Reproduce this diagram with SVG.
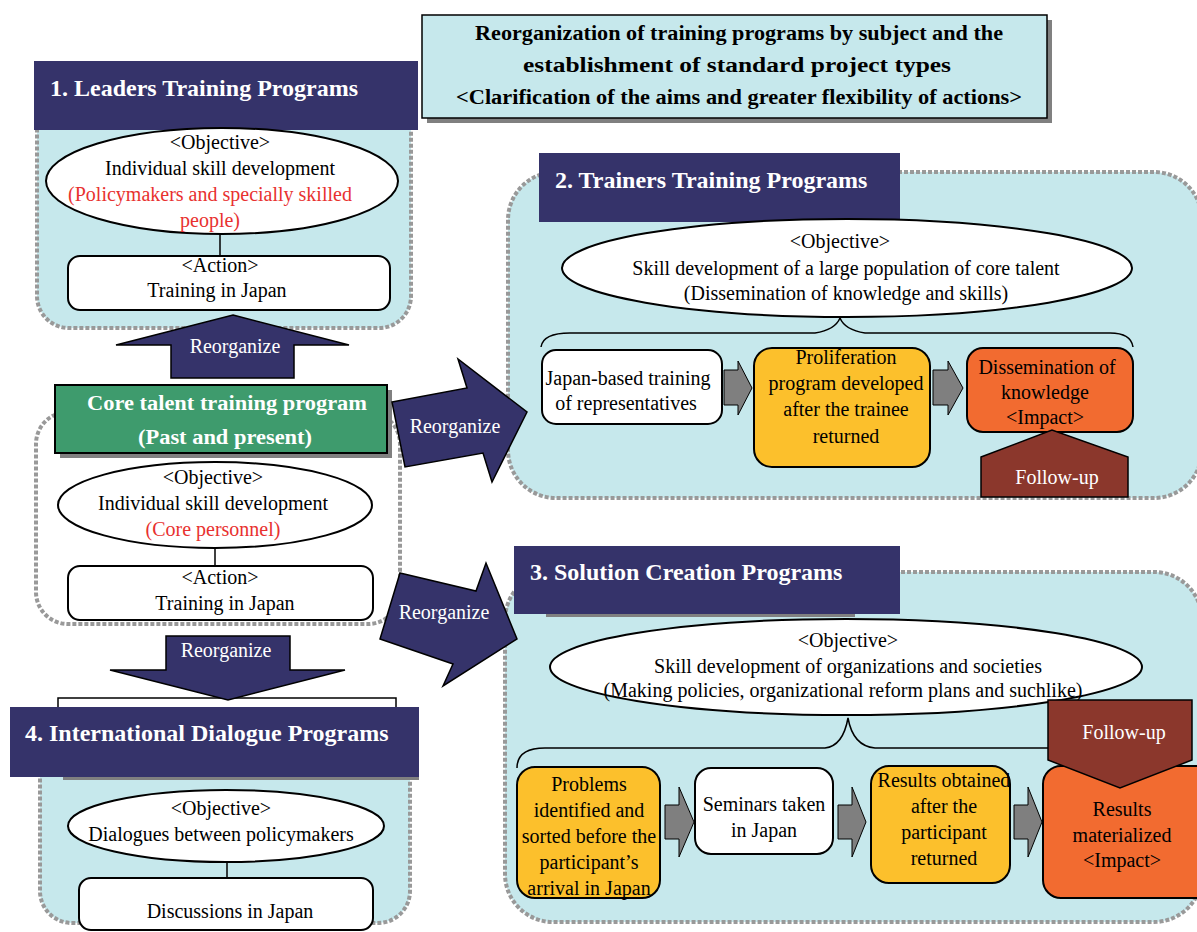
<svg xmlns="http://www.w3.org/2000/svg" width="1197" height="932" viewBox="0 0 1197 932">
<style>
text{font-family:"Liberation Serif","Times New Roman",serif;font-size:20px;fill:#000;text-anchor:middle;dominant-baseline:central}
.hdr{font-size:24px;font-weight:bold;fill:#fff;text-anchor:start}
.w{fill:#fff}
.red{fill:#e8312f}
.b{font-weight:bold}
.region{fill:#c6e8ec;stroke:#999;stroke-width:4;stroke-dasharray:4 2}
.regionw{fill:#fff;stroke:#999;stroke-width:4;stroke-dasharray:4 2}
.navy{fill:#35336a}
.ell{fill:#fff;stroke:#000;stroke-width:2}
.box{stroke:#000;stroke-width:2}
.white{fill:#fff}
.yel{fill:#fcc02c}
.org{fill:#f26b30}
.fu{fill:#8b372c;stroke:#000;stroke-width:1.5}
.garr{fill:#7f7f7f;stroke:#000;stroke-width:1}
.big{fill:#35336a;stroke:#000;stroke-width:1.5}
.ln{stroke:#000;stroke-width:1.5;fill:none}
</style>

<g id="title">
<rect x="427" y="20" width="625" height="103" fill="#808080"/>
<rect x="422" y="15" width="625" height="103" fill="#c6e8ec" stroke="#000" stroke-width="1.5"/>
<text class="b" x="739" y="33" font-size="26" textLength="528" lengthAdjust="spacingAndGlyphs">Reorganization of training programs by subject and the</text>
<text class="b" x="737" y="65" font-size="26" textLength="428" lengthAdjust="spacingAndGlyphs">establishment of standard project types</text>
<text class="b" x="739" y="97" font-size="26" textLength="566" lengthAdjust="spacingAndGlyphs">&lt;Clarification of the aims and greater flexibility of actions&gt;</text>
</g>

<g id="leaders">
<rect class="region" x="37" y="100" width="374" height="228" rx="32"/>
<rect class="navy" x="34" y="61" width="384" height="69"/>
<text class="hdr" x="50" y="88">1. Leaders Training Programs</text>
<ellipse class="ell" cx="222" cy="181" rx="176" ry="53"/>
<text x="220" y="142">&lt;Objective&gt;</text>
<text x="220" y="168">Individual skill development</text>
<text class="red" x="210" y="194">(Policymakers and specially skilled</text>
<text class="red" x="210" y="220">people)</text>
<line class="ln" x1="220" y1="234" x2="220" y2="256"/>
<rect class="ell" x="68" y="256" width="322" height="54" rx="12"/>
<text x="220" y="265">&lt;Action&gt;</text>
<text x="217" y="290">Training in Japan</text>
</g>

<g id="core">
<rect class="regionw" x="36" y="412" width="364" height="212" rx="32"/>
<rect x="60" y="390" width="332" height="68" fill="#808080"/>
<rect x="55" y="385" width="332" height="68" fill="#3e9b6d" stroke="#000" stroke-width="2"/>
<text class="b w" x="227" y="403" font-size="27" textLength="280" lengthAdjust="spacingAndGlyphs">Core talent training program</text>
<text class="b w" x="225" y="437" font-size="27" textLength="174" lengthAdjust="spacingAndGlyphs">(Past and present)</text>
<ellipse class="ell" cx="215" cy="505" rx="157" ry="43"/>
<text x="213" y="477">&lt;Objective&gt;</text>
<text x="213" y="503">Individual skill development</text>
<text class="red" x="213" y="529">(Core personnel)</text>
<line class="ln" x1="215" y1="548" x2="215" y2="566"/>
<rect class="ell" x="68" y="566" width="305" height="54" rx="12"/>
<text x="220" y="577">&lt;Action&gt;</text>
<text x="225" y="603">Training in Japan</text>
</g>

<g id="dialogue">
<rect class="region" x="40" y="716" width="370" height="207" rx="32"/>
<rect x="58" y="698" width="338" height="30" fill="#fff" stroke="#000" stroke-width="1.5"/>
<rect x="63" y="712" width="356" height="68" fill="#808080"/>
<rect class="navy" x="10" y="707" width="409" height="70"/>
<text class="hdr" x="25" y="733">4. International Dialogue Programs</text>
<ellipse class="ell" cx="226" cy="826" rx="158" ry="36"/>
<text x="221" y="808">&lt;Objective&gt;</text>
<text x="221" y="834">Dialogues between policymakers</text>
<line class="ln" x1="227" y1="862" x2="227" y2="878"/>
<rect class="ell" x="79" y="878" width="294" height="52" rx="12"/>
<text x="230" y="911">Discussions in Japan</text>
</g>

<g id="trainers">
<rect class="region" x="508" y="172" width="694" height="326" rx="48"/>
<rect class="navy" x="539" y="153" width="361" height="69"/>
<text class="hdr" x="555" y="180">2. Trainers Training Programs</text>
<ellipse class="ell" cx="847" cy="268" rx="285" ry="49"/>
<text x="840" y="241">&lt;Objective&gt;</text>
<text x="846" y="268">Skill development of a large population of core talent</text>
<text x="846" y="293">(Dissemination of knowledge and skills)</text>
<path class="ln" d="M541,347 Q543,333 570,333 L815,333 Q835,330 840,318 Q845,330 865,333 L1110,333 Q1131,333 1133,347"/>
<rect class="box white" x="542" y="350" width="180" height="74" rx="14"/>
<text x="628" y="378">Japan-based training</text>
<text x="626" y="403">of representatives</text>
<polygon class="garr" points="724,370 738,370 738,361 752,388 738,415 738,405 724,405"/>
<rect class="box yel" x="754" y="348" width="176" height="119" rx="18"/>
<text x="846" y="357">Proliferation</text>
<text x="846" y="383">program developed</text>
<text x="846" y="409">after the trainee</text>
<text x="846" y="436">returned</text>
<polygon class="garr" points="933,370 948,370 948,361 963,388 948,415 948,405 933,405"/>
<rect class="box org" x="967" y="348" width="166" height="84" rx="16"/>
<text x="1047" y="367">Dissemination of</text>
<text x="1045" y="392">knowledge</text>
<text x="1045" y="417">&lt;Impact&gt;</text>
<polygon class="fu" points="981,457 1052,430 1128,457 1128,497 981,497"/>
<text class="w" x="1057" y="477">Follow-up</text>
</g>

<g id="solutions">
<rect class="region" x="505" y="572" width="697" height="350" rx="48"/>
<rect x="546" y="560" width="309" height="57" fill="#808080"/>
<rect class="navy" x="514" y="546" width="386" height="68"/>
<text class="hdr" x="530" y="572">3. Solution Creation Programs</text>
<ellipse class="ell" cx="846" cy="667" rx="296" ry="48"/>
<text x="848" y="640">&lt;Objective&gt;</text>
<text x="848" y="666">Skill development of organizations and societies</text>
<text x="843" y="690">(Making policies, organizational reform plans and suchlike)</text>
<path class="ln" d="M517,768 Q517,748 545,748 L825,748 Q843,746 848,718 Q853,746 875,748 L1150,748 Q1175,748 1177,768"/>
<rect class="box yel" x="517" y="767" width="143" height="131" rx="18"/>
<text x="589" y="784">Problems</text>
<text x="589" y="810">identified and</text>
<text x="589" y="836">sorted before the</text>
<text x="589" y="862">participant’s</text>
<text x="589" y="888">arrival in Japan</text>
<polygon class="garr" points="665,805 679,805 679,787 694,822 679,857 679,839 665,839"/>
<rect class="box white" x="695" y="768" width="138" height="86" rx="16"/>
<text x="764" y="804">Seminars taken</text>
<text x="764" y="830">in Japan</text>
<polygon class="garr" points="838,805 852,805 852,787 866,822 852,857 852,839 838,839"/>
<rect class="box yel" x="871" y="766" width="139" height="117" rx="18"/>
<text x="944" y="780">Results obtained</text>
<text x="944" y="806">after the</text>
<text x="944" y="832">participant</text>
<text x="944" y="858">returned</text>
<polygon class="garr" points="1014,805 1028,805 1028,787 1042,822 1028,857 1028,839 1014,839"/>
<rect class="box org" x="1043" y="766" width="170" height="132" rx="18"/>
<polygon class="fu" points="1048,700 1192,700 1192,760 1120,788 1048,760"/>
<text class="w" x="1124" y="732">Follow-up</text>
<text x="1122" y="809">Results</text>
<text x="1122" y="835">materialized</text>
<text x="1122" y="860">&lt;Impact&gt;</text>
</g>

<g id="connectors">
<polygon class="big" points="233,315 349,345 294,345 294,378 171,378 171,345 116,345"/>
<text class="w" x="235" y="346">Reorganize</text>
<polygon class="big" points="392,402 467,388 458,359 527,412 492,482 483,453 405,467"/>
<text class="w" x="455" y="426">Reorganize</text>
<polygon class="big" points="400,573 476,591 486,563 517,639 443,686 453,664 380,639"/>
<text class="w" x="444" y="612">Reorganize</text>
<polygon class="big" points="166,636 290,636 290,670 345,670 228,700 110,670 166,670"/>
<text class="w" x="226" y="650">Reorganize</text>
</g>
</svg>
